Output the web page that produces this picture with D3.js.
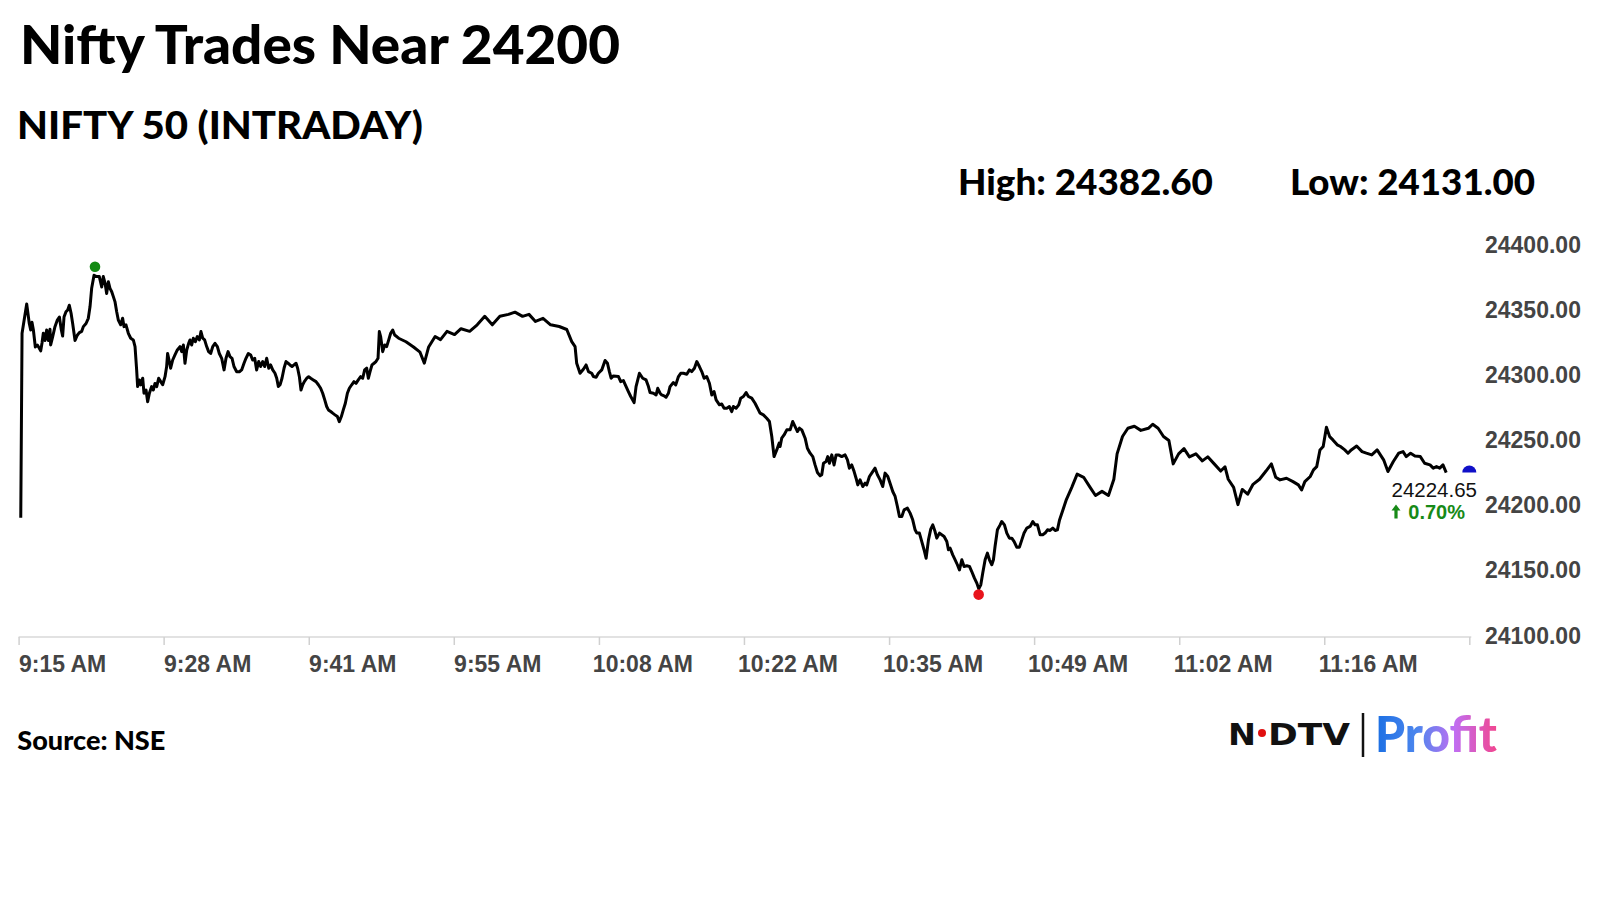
<!DOCTYPE html>
<html><head><meta charset="utf-8">
<script src="https://cdn.jsdelivr.net/npm/d3@7"></script>
<style>html,body{margin:0;padding:0;background:#fff;} svg{display:block}</style>
</head><body><svg id="chart" width="1600" height="900"></svg>
<script>
const title = "Nifty Trades Near 24200";
const subtitle = "NIFTY 50 (INTRADAY)";
const source = "Source: NSE";
const highValue = 24382.60, highMinute = 7.08;
const lowValue = 24131.00, lowMinute = 88.97;
const lastValue = 24224.65;
const changePct = "0.70%";
const xTickMinutes = [0, 13.44, 26.89, 40.33, 53.78, 67.22, 80.67, 94.11, 107.56, 121, 134.44];
const xTickLabels = ["9:15 AM","9:28 AM","9:41 AM","9:55 AM","10:08 AM","10:22 AM","10:35 AM","10:49 AM","11:02 AM","11:16 AM",""];
const yTicks = [24100, 24150, 24200, 24250, 24300, 24350, 24400];

// minutes after 9:15 AM
const minutes = [0.2,0.32,0.75,0.99,1.12,1.24,1.37,1.55,1.74,1.92,2.05,2.17,2.29,2.45,2.60,2.76,2.91,2.97,3.16,3.37,3.59,3.78,3.96,4.08,4.21,4.39,4.55,4.70,4.86,5.01,5.23,5.44,5.63,5.85,6.00,6.25,6.46,6.62,6.77,6.99,7.24,7.48,7.70,7.85,8.01,8.16,8.32,8.47,8.63,8.78,8.93,9.09,9.24,9.46,9.64,9.77,9.95,10.17,10.39,10.63,10.79,10.94,11.03,11.19,11.31,11.50,11.62,11.81,11.96,12.12,12.33,12.49,12.64,12.80,12.98,13.17,13.35,13.57,13.72,13.81,13.97,14.09,14.28,14.49,14.71,14.96,15.11,15.27,15.42,15.58,15.76,15.88,16.04,16.19,16.38,16.56,16.75,16.90,17.06,17.24,17.43,17.61,17.80,17.99,18.20,18.42,18.60,18.82,19.04,19.22,19.41,19.59,19.78,19.96,20.21,20.46,20.67,20.89,21.07,21.29,21.51,21.69,21.88,22.06,22.25,22.43,22.62,22.80,22.99,23.18,23.36,23.55,23.76,23.92,24.07,24.23,24.41,24.60,24.78,24.97,25.15,25.34,25.52,25.71,25.86,26.02,26.17,26.33,26.48,26.70,26.88,27.07,27.31,27.56,27.78,27.99,28.18,28.37,28.55,28.71,28.92,29.11,29.32,29.54,29.72,29.91,30.09,30.28,30.47,30.65,30.87,31.08,31.27,31.48,31.70,31.89,32.07,32.26,32.41,32.57,32.75,32.94,33.12,33.31,33.43,33.55,33.74,33.93,34.11,34.30,34.48,34.67,34.85,35.04,35.22,
35.9,36.6,37.2,37.6,38.0,38.6,39.1,39.7,40.4,41.0,41.8,42.5,43.2,43.9,44.6,45.4,46.0,46.7,47.3,47.9,48.6,49.3,50.1,50.8,
51.26,51.57,51.72,52.03,52.34,52.59,52.81,53.11,53.27,53.52,53.73,54.04,54.35,54.57,54.75,54.91,55.12,55.59,55.80,56.05,56.30,56.51,56.73,57.04,57.22,57.53,57.84,58.15,58.37,58.52,58.83,59.08,59.23,59.45,59.60,59.82,60.00,60.22,60.37,60.68,60.90,61.15,61.36,61.61,61.92,62.17,62.38,62.63,62.85,63.09,63.31,63.53,63.77,64.02,64.24,64.45,64.64,64.95,65.16,65.38,65.63,65.87,66.09,66.24,66.49,66.74,66.92,67.17,67.42,67.63,67.94,68.25,68.56,68.72,69.02,69.33,69.58,69.80,70.01,70.26,70.48,70.57,70.72,70.94,71.19,71.50,71.74,71.96,72.18,72.36,72.58,72.89,73.10,73.35,73.60,73.81,74.03,74.28,74.43,74.59,74.83,74.99,75.14,75.36,75.57,75.76,75.98,76.28,76.59,76.81,76.99,77.21,77.43,77.61,77.77,77.98,78.23,78.45,78.60,78.85,79.06,79.37,79.59,79.84,80.08,80.30,80.55,80.76,81.01,81.23,81.44,81.63,81.85,82.06,82.37,82.62,82.86,83.08,83.24,83.48,83.70,83.91,84.10,84.32,84.53,84.72,84.93,85.09,85.34,85.55,85.77,86.02,86.17,86.33,86.57,86.79,87.00,87.19,87.41,87.62,87.87,88.12,88.33,88.58,88.80,88.98,89.17,89.35,89.57,89.78,89.97,90.19,90.34,90.49,90.71,90.96,91.11,91.36,91.58,91.82,92.04,92.26,92.50,92.75,92.97,93.18,93.43,93.74,93.99,94.20,94.42,94.67,94.91,95.13,95.35,95.59,95.84,96.06,96.27,96.46,
97.1,97.6,98.1,98.7,99.3,99.8,100.4,101.0,101.5,101.8,102.3,102.8,103.4,104.0,104.7,105.1,105.6,106.1,106.6,107.0,107.5,108.0,108.5,109.1,109.7,110.2,110.8,111.4,111.8,112.1,112.6,113.0,113.4,113.9,114.4,115.0,115.6,116.1,116.5,
116.9,117.5,118.1,118.6,118.9,119.2,119.7,120.0,120.3,120.6,120.9,121.2,121.5,121.8,122.2,122.5,122.9,123.2,123.5,124.0,124.5,124.9,125.4,125.9,126.2,126.5,126.9,127.4,127.9,128.3,128.6,129.0,129.4,129.9,130.3,130.8,131.1,131.4,131.7,132.0,132.3];

const values = [24190,24331.5,24354,24339,24334,24340,24334,24321,24322.5,24320,24318,24324,24331.5,24326,24334,24326,24334.6,24322.5,24329,24336.6,24341.7,24344,24334,24329.4,24344,24348,24349.4,24353,24347,24339,24326,24330,24332,24333,24336.6,24339,24343,24352,24366,24376,24375,24375,24367,24375,24370,24362,24371,24366,24363.4,24359.6,24355.8,24348,24341.7,24338,24343,24336.6,24338,24331.5,24327.7,24326.4,24321.3,24303.4,24290.6,24295.7,24291.9,24297,24285.5,24288,24279,24285.5,24290.6,24288,24293,24290.6,24297,24294.4,24292,24298.2,24306,24316,24309.8,24304.7,24311,24314.9,24318.7,24321.3,24317.4,24322.5,24308.5,24318.7,24323.8,24326.4,24322.5,24327.7,24325,24329,24326.4,24332.8,24327.7,24326.4,24321.3,24317.4,24316,24321.3,24323.8,24321.3,24316,24312.3,24303.4,24312.3,24317.4,24313.6,24312.3,24306,24302,24302,24303.4,24308.5,24312.3,24316,24314.9,24311,24312.3,24303.4,24309.8,24306,24309.8,24306,24312.3,24304.7,24307.2,24303.4,24300.8,24297,24290.6,24292,24297,24304.7,24309.8,24308.5,24307.2,24306,24307.2,24308.5,24304.7,24298.2,24288,24292,24294.4,24297,24298.2,24297,24295.7,24294.4,24292,24289.3,24285.5,24280.4,24275.3,24272.7,24271.5,24270.2,24268.9,24267.6,24263.7,24267.6,24272.7,24277.8,24285.5,24289.3,24292,24294.4,24293.1,24295.7,24298.2,24297,24303.4,24304.7,24297,24302,24307.2,24308.5,24309.8,24312.3,24332.8,24329,24317.4,24322.5,24321.3,24326.4,24331.5,24334,24330.2,24329,24327.7,
24325,24321,24317,24308.6,24321,24329,24326.6,24333,24330.5,24335,24333,24338,24344.5,24338,24344.5,24346,24347.7,24344.5,24346,24340.6,24343,24338,24336.7,24334.4,
24325.1,24321.3,24308.5,24300.8,24303.9,24307.2,24302.1,24300.8,24298.3,24297.8,24300.8,24303.4,24310.6,24308.5,24302.1,24297,24298.8,24298.3,24294.4,24295.2,24290.6,24286.8,24283,24278.3,24290.6,24300.8,24297,24295.7,24290.6,24286,24285.5,24284.2,24289.3,24285.5,24284.2,24283.5,24282.4,24285.5,24290.6,24293.7,24291.9,24298.3,24300.8,24300.8,24300.1,24303.4,24302.1,24304.7,24309.8,24306,24302.1,24297,24298.3,24293.2,24284.2,24286.8,24280.4,24276.6,24277.3,24274,24274,24275.3,24271.4,24275.3,24274,24276.6,24281.7,24283,24286,24283,24281.7,24277.8,24272.7,24270.2,24268.9,24266.3,24263.8,24252.3,24236.9,24242,24247.2,24244.6,24251,24253.5,24257.4,24257.4,24263.8,24259.9,24256.1,24258.7,24257.4,24251,24243.3,24239.5,24236.9,24230.5,24224.7,24222.1,24222.9,24231.8,24233.1,24236.9,24231.8,24238.2,24230.5,24238.2,24238.2,24236.9,24238.2,24234.4,24228,24230.5,24225.4,24220.3,24215.2,24219,24213.9,24216.5,24215.2,24221.6,24224.2,24228,24222.9,24219,24213.9,24224.2,24221.6,24216.5,24210.1,24206.3,24198.6,24190.9,24190.9,24196,24197.3,24193.5,24188.4,24180.7,24178.2,24178.2,24171.7,24165.4,24158.9,24173,24181.2,24184.5,24179.4,24174.3,24178.2,24176.9,24175.6,24171.7,24165.4,24166.6,24161.5,24157.7,24153.9,24150,24157.7,24152.6,24153.1,24152.6,24148.7,24143.6,24139.8,24135.5,24138.5,24147.5,24157.7,24162.8,24157.7,24153.9,24157.7,24167.9,24180.7,24184.5,24187.1,24184.5,24178.2,24174.3,24174.3,24171.7,24167.4,24167.4,24173,24178.2,24182,24183.3,24187.1,24184.5,24184.5,24176.9,24176.9,24178.2,24180.7,24180.2,24182,24180.2,24180.7,24188,
24203.9,24213.3,24223.4,24221,24213.3,24207,24210.2,24207,24219.5,24239,24252.3,24258.6,24260.2,24257,24258.6,24261.7,24258.6,24252.3,24249.2,24231.3,24239,24243,24236.7,24239,24233.6,24236.7,24231.3,24225.8,24229,24219.5,24213.3,24200,24211.7,24208,24215.6,24219.5,24225.8,24231.3,24221,
24219,24220.3,24217.7,24215.2,24211.3,24217.7,24221.6,24226.7,24229.2,24242,24244.6,24259.4,24252.2,24249.7,24245.9,24244.6,24242,24239.5,24242,24245,24240.7,24239.5,24238.2,24242,24238.2,24234.4,24225.4,24233.1,24239.5,24240.7,24236.9,24239.5,24237.4,24236.9,24231.8,24230.5,24228,24229.2,24228,24230.5,24224.65];

const data = minutes.map((m, i) => ({m, v: values[i]}));

const svg = d3.select("#chart");
svg.append("rect").attr("width", 1600).attr("height", 900).attr("fill", "#fff");

const x = d3.scaleLinear().domain([0, 134.44]).range([18.6, 1469.3]);
const y = d3.scaleLinear().domain([24100, 24400]).range([635, 244]);

const headFont = "Lato, 'Open Sans', sans-serif";
const axisFont = "'Liberation Sans', Arial, sans-serif";

// Titles
svg.append("text").text(title).attr("x", 20).attr("y", 63.5)
  .attr("font-family", headFont).attr("font-weight", 900).attr("font-size", 53)
  .attr("textLength", 600).attr("lengthAdjust", "spacingAndGlyphs").attr("fill", "#000");
svg.append("text").text(subtitle).attr("x", 17).attr("y", 139.3)
  .attr("font-family", headFont).attr("font-weight", 900).attr("font-size", 38)
  .attr("textLength", 406).attr("lengthAdjust", "spacingAndGlyphs").attr("fill", "#000");
svg.append("text").text("High: " + highValue.toFixed(2)).attr("x", 958).attr("y", 195)
  .attr("font-family", headFont).attr("font-weight", 900).attr("font-size", 36)
  .attr("textLength", 255).attr("lengthAdjust", "spacingAndGlyphs").attr("fill", "#000");
svg.append("text").text("Low: " + lowValue.toFixed(2)).attr("x", 1290).attr("y", 195)
  .attr("font-family", headFont).attr("font-weight", 900).attr("font-size", 36)
  .attr("textLength", 245).attr("lengthAdjust", "spacingAndGlyphs").attr("fill", "#000");
svg.append("text").text(source).attr("x", 17.3).attr("y", 750)
  .attr("font-family", headFont).attr("font-weight", 900).attr("font-size", 27)
  .attr("textLength", 148).attr("lengthAdjust", "spacingAndGlyphs").attr("fill", "#000");

// X axis
svg.append("line").attr("x1", x(0)).attr("x2", x(134.44) + 2)
  .attr("y1", 637).attr("y2", 637).attr("stroke", "#d9d9d9").attr("stroke-width", 1.5);
const xAxis = d3.axisBottom(x).tickValues(xTickMinutes)
  .tickFormat((d, i) => xTickLabels[i]).tickSize(8).tickPadding(0);
const gx = svg.append("g").attr("transform", "translate(0,637)").call(xAxis);
gx.select(".domain").remove();
gx.selectAll(".tick line").attr("stroke", "#d0d0d0").attr("stroke-width", 1.5);
gx.selectAll(".tick text").attr("x", 43.5).attr("y", 35).attr("dy", 0)
  .attr("font-family", axisFont).attr("font-weight", "bold").attr("font-size", 23).attr("fill", "#444");

// Y axis
const yAxis = d3.axisRight(y).tickValues(yTicks).tickFormat(d3.format(".2f")).tickSize(0).tickPadding(0);
const gy = svg.append("g").attr("transform", "translate(1485,0)").call(yAxis);
gy.select(".domain").remove();
gy.selectAll(".tick text").attr("x", 0).attr("dy", "0.35em")
  .attr("font-family", axisFont).attr("font-weight", "bold").attr("font-size", 23).attr("fill", "#444");

// Line
const line = d3.line().x(d => x(d.m)).y(d => y(d.v));
svg.append("path").datum(data).attr("d", line).attr("fill", "none")
  .attr("stroke", "#000").attr("stroke-width", 3).attr("stroke-linejoin", "round");

// High / low markers
svg.append("circle").attr("cx", x(highMinute)).attr("cy", y(highValue)).attr("r", 5.3).attr("fill", "#138a13");
svg.append("circle").attr("cx", x(lowMinute)).attr("cy", y(lowValue)).attr("r", 5.3).attr("fill", "#e8141c");

// Last value marker (half dot)
const half = d3.arc().innerRadius(0).outerRadius(7).startAngle(-Math.PI / 2).endAngle(Math.PI / 2);
svg.append("path").attr("d", half()).attr("transform", `translate(${x(134.44)},${y(lastValue)})`).attr("fill", "#1010c8");

const ly = y(lastValue);
svg.append("text").text(lastValue.toFixed(2)).attr("x", 1477).attr("y", ly + 24)
  .attr("text-anchor", "end").attr("font-family", axisFont).attr("font-weight", 500).attr("font-size", 20.5).attr("fill", "#111");
svg.append("text").text(changePct).attr("x", 1465).attr("y", ly + 46)
  .attr("text-anchor", "end").attr("font-family", axisFont).attr("font-weight", "bold")
  .attr("font-size", 20).attr("fill", "#178a17");
// up arrow
const ax = 1396, at = ly + 32;
svg.append("path")
  .attr("d", `M${ax},${at} L${ax + 4.5},${at + 6} L${ax + 1.6},${at + 6} L${ax + 1.6},${at + 14} L${ax - 1.6},${at + 14} L${ax - 1.6},${at + 6} L${ax - 4.5},${at + 6} Z`)
  .attr("fill", "#178a17");

// Logo
const logo = svg.append("g");
logo.append("text").text("N").attr("x", 1228).attr("y", 745)
  .attr("font-family", "'DejaVu Sans', sans-serif").attr("font-weight", "bold").attr("font-size", 30)
  .attr("textLength", 28).attr("lengthAdjust", "spacingAndGlyphs").attr("fill", "#111");
logo.append("circle").attr("cx", 1262).attr("cy", 733).attr("r", 4).attr("fill", "#e01010");
logo.append("text").text("DTV").attr("x", 1268).attr("y", 745)
  .attr("font-family", "'DejaVu Sans', sans-serif").attr("font-weight", "bold").attr("font-size", 30)
  .attr("textLength", 82).attr("lengthAdjust", "spacingAndGlyphs").attr("fill", "#111");
logo.append("line").attr("x1", 1363).attr("x2", 1363).attr("y1", 713).attr("y2", 757)
  .attr("stroke", "#111").attr("stroke-width", 2.5);
const defs = svg.append("defs");
const grad = defs.append("linearGradient").attr("id", "profitGrad").attr("x1", "0%").attr("x2", "100%");
grad.append("stop").attr("offset", "0%").attr("stop-color", "#1a6fe3");
grad.append("stop").attr("offset", "35%").attr("stop-color", "#4d86ee");
grad.append("stop").attr("offset", "65%").attr("stop-color", "#c06ef2");
grad.append("stop").attr("offset", "100%").attr("stop-color", "#f2468f");
logo.append("text").text("Profit").attr("x", 1375).attr("y", 752)
  .attr("font-family", headFont).attr("font-weight", 900).attr("font-size", 50)
  .attr("textLength", 122).attr("lengthAdjust", "spacingAndGlyphs").attr("fill", "url(#profitGrad)");
</script>
</body></html>
